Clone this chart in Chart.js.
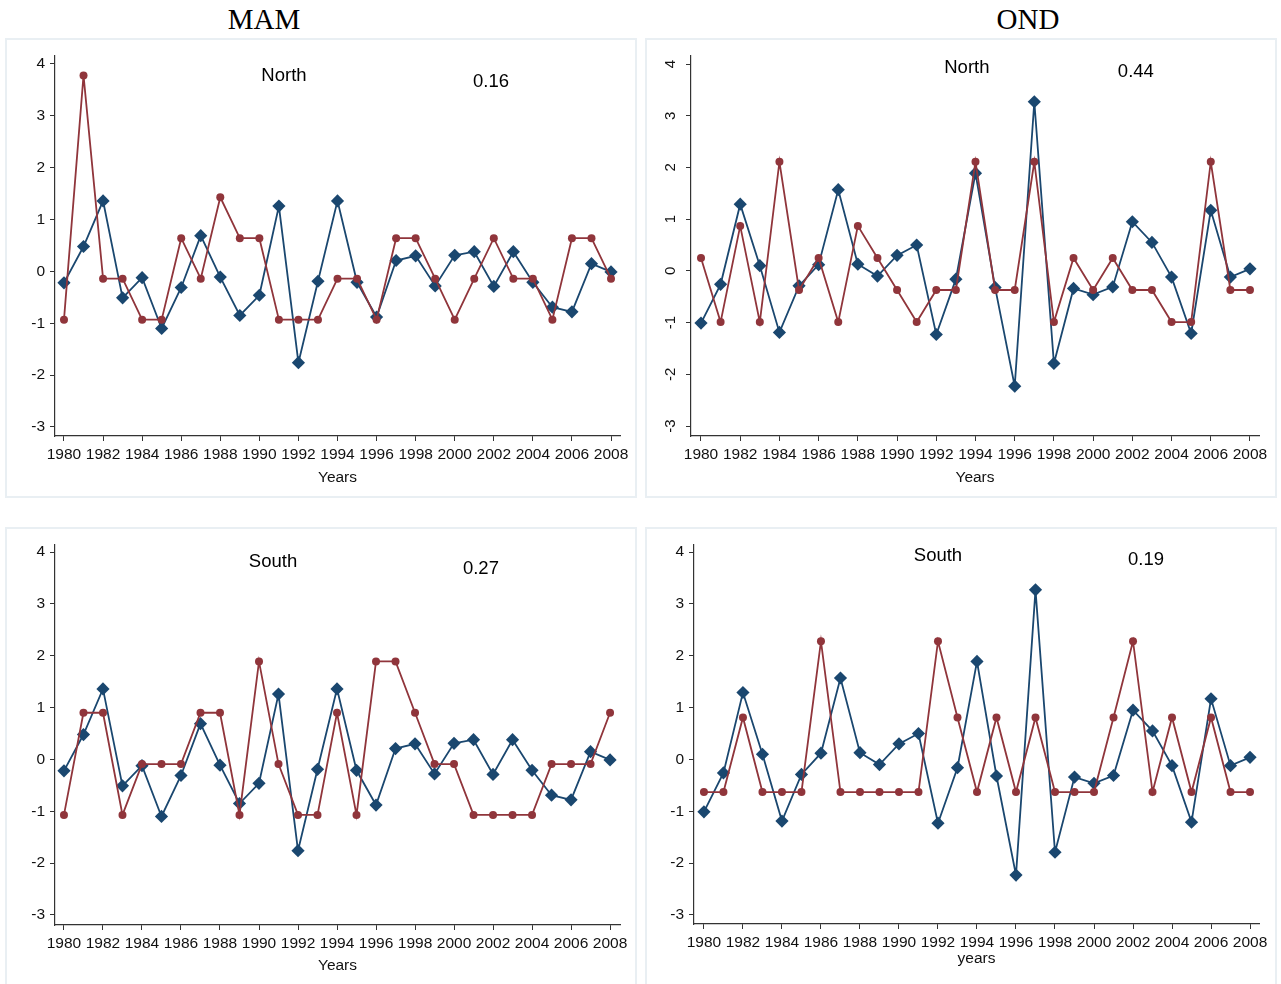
<!DOCTYPE html>
<html><head><meta charset="utf-8">
<script src="https://cdn.jsdelivr.net/npm/chart.js@4.4.1/dist/chart.umd.min.js"></script>
<style>
html,body{margin:0;padding:0;background:#fff;}
body{width:1281px;height:984px;position:relative;overflow:hidden;}
.ttl{position:absolute;top:0;font-family:"Liberation Serif","Times New Roman",serif;font-size:29px;line-height:38px;width:200px;text-align:center;color:#000;}
.box{position:absolute;border:2px solid #e9eff3;box-sizing:border-box;}
canvas{position:absolute;}
</style></head><body>
<div class="ttl" style="left:164px">MAM</div>
<div class="ttl" style="left:928px">OND</div>
<div class="box" style="left:5px;top:38px;width:632px;height:460px"></div>
<div class="box" style="left:645px;top:38px;width:632px;height:460px"></div>
<div class="box" style="left:5px;top:527px;width:632px;height:460px"></div>
<div class="box" style="left:645px;top:527px;width:632px;height:460px"></div>
<canvas id="c1" width="632" height="460" style="left:5px;top:38px"></canvas>
<canvas id="c2" width="632" height="460" style="left:645px;top:38px"></canvas>
<canvas id="c3" width="632" height="457" style="left:5px;top:527px"></canvas>
<canvas id="c4" width="632" height="457" style="left:645px;top:527px"></canvas>
<script>
// ---- data ----
const years = [1980,1981,1982,1983,1984,1985,1986,1987,1988,1989,1990,1991,1992,1993,1994,1995,1996,1997,1998,1999,2000,2001,2002,2003,2004,2005,2006,2007,2008];
const xTickLabels = [1980,1982,1984,1986,1988,1990,1992,1994,1996,1998,2000,2002,2004,2006,2008];
const yTickLabels = [-3,-2,-1,0,1,2,3,4];

// blue (diamond) series: same index in both regions of a season
const mamIndex = [-0.22,0.48,1.36,-0.51,-0.12,-1.10,-0.31,0.69,-0.11,-0.85,-0.46,1.26,-1.76,-0.19,1.36,-0.21,-0.88,0.21,0.30,-0.28,0.31,0.38,-0.29,0.38,-0.21,-0.69,-0.78,0.15,-0.01];
const ondIndex = [-1.01,-0.26,1.29,0.10,-1.19,-0.29,0.12,1.57,0.13,-0.10,0.30,0.50,-1.23,-0.16,1.89,-0.32,-2.23,3.27,-1.79,-0.34,-0.46,-0.31,0.95,0.55,-0.12,-1.21,1.17,-0.12,0.04];

// red (circle) series
const mamNorth = [-0.93,3.78,-0.14,-0.14,-0.93,-0.93,0.64,-0.14,1.43,0.64,0.64,-0.93,-0.93,-0.93,-0.14,-0.14,-0.93,0.64,0.64,-0.14,-0.93,-0.14,0.64,-0.14,-0.14,-0.93,0.64,0.64,-0.14];
const ondNorth = [0.25,-0.99,0.87,-0.99,2.11,-0.37,0.25,-0.99,0.87,0.25,-0.37,-0.99,-0.37,-0.37,2.11,-0.37,-0.37,2.11,-0.99,0.25,-0.37,0.25,-0.37,-0.37,-0.99,-0.99,2.11,-0.37,-0.37];
const mamSouth = [-1.07,0.90,0.90,-1.07,-0.09,-0.09,-0.09,0.90,0.90,-1.07,1.89,-0.09,-1.07,-1.07,0.90,-1.07,1.89,1.89,0.90,-0.09,-0.09,-1.07,-1.07,-1.07,-1.07,-0.09,-0.09,-0.09,0.90];
const ondSouth = [-0.63,-0.63,0.81,-0.63,-0.63,-0.63,2.28,-0.63,-0.63,-0.63,-0.63,-0.63,2.28,0.81,-0.63,0.81,-0.63,0.81,-0.63,-0.63,-0.63,0.81,2.28,-0.63,0.81,-0.63,0.81,-0.63,-0.63];

const regionNames = ["North","North","South","South"];
const corrLabels = ["0.16","0.44","0.27","0.19"];
const axisTitles = ["Years","Years","Years","years"];

// ---- styling ----
const BLUE = '#1a476f', RED = '#90353b';
const FONT = '"Liberation Sans", Arial, sans-serif';

const panelTextPlugin = {
  id: 'panelText',
  afterDraw(chart, args, opts) {
    const ctx = chart.ctx, xs = chart.scales.x, ys = chart.scales.y;
    ctx.save();
    ctx.fillStyle = '#000';
    ctx.textAlign = 'center';
    ctx.textBaseline = 'middle';
    ctx.font = '18.5px ' + FONT;
    (opts.items || []).forEach(it => {
      ctx.fillText(it.text, xs.getPixelForValue(it.x), ys.getPixelForValue(it.y));
    });
    if (opts.rotY) {
      ctx.font = '15px ' + FONT;
      ctx.fillStyle = '#111';
      ys.ticks.forEach(t => {
        const py = ys.getPixelForValue(t.value);
        ctx.save();
        ctx.translate(ys.right - 20, py);
        ctx.rotate(-Math.PI / 2);
        ctx.fillText(String(t.value), 0, 0);
        ctx.restore();
      });
    }
    ctx.restore();
  }
};

function makePanel(id, cfg) {
  const el = document.getElementById(id);
  const W = el.width, H = el.height;
  const pts = arr => years.map((yr, i) => ({x: yr, y: arr[i]}));
  new Chart(el, {
    type: 'line',
    data: { datasets: [
      { data: pts(cfg.red), borderColor: RED, backgroundColor: RED, pointStyle: 'circle',
        pointRadius: 4, pointHoverRadius: 4, pointBorderWidth: 0, borderWidth: 1.8, tension: 0, clip: false, order: 0 },
      { data: pts(cfg.blue), borderColor: BLUE, backgroundColor: BLUE, pointStyle: 'rectRot',
        pointRadius: 6.6, pointHoverRadius: 6.6, pointBorderWidth: 0, borderWidth: 1.8, tension: 0, clip: false, order: 1 }
    ]},
    plugins: [panelTextPlugin],
    options: {
      responsive: false, animation: false, events: [],
      layout: { padding: { left: 0, top: cfg.plot.T, right: W - cfg.plot.R, bottom: 0 } },
      plugins: { legend: { display: false }, tooltip: { enabled: false },
        panelText: { items: cfg.items, rotY: cfg.rotY } },
      scales: {
        x: {
          type: 'linear', min: cfg.xmin, max: cfg.xmax,
          afterBuildTicks: s => { s.ticks = xTickLabels.map(v => ({ value: v })); },
          afterFit: s => { s.height = H - cfg.plot.B; },
          grid: { display: true, drawOnChartArea: false, drawTicks: true, tickLength: 5, tickColor: '#333', tickWidth: 1 },
          border: { display: true, color: '#333', width: 1.2 },
          ticks: { font: { family: FONT, size: 15.5 }, color: '#111', padding: 4, maxRotation: 0, minRotation: 0, autoSkip: false,
                   callback: v => String(v) },
          title: { display: true, text: cfg.title, color: '#111', font: { family: FONT, size: 15.5 }, padding: { top: 0, bottom: cfg.titlePad } }
        },
        y: {
          type: 'linear', min: cfg.ymin, max: cfg.ymax,
          afterBuildTicks: s => { s.ticks = yTickLabels.map(v => ({ value: v })); },
          afterFit: s => { s.width = cfg.plot.L; },
          grid: { display: true, drawOnChartArea: false, drawTicks: true, tickLength: 5, tickColor: '#333', tickWidth: 1 },
          border: { display: true, color: '#333', width: 1.2 },
          ticks: { display: !cfg.rotY, font: { family: FONT, size: 15.5 }, color: '#111', padding: 5, callback: v => String(v) }
        }
      }
    }
  });
}

// plot rectangles are relative to each canvas
makePanel('c1', { blue: mamIndex, red: mamNorth, title: axisTitles[0], titlePad: 11,
  plot: { L: 50, T: 18, R: 615, B: 398 }, xmin: 1979.54, xmax: 2008.46, ymin: -3.174, ymax: 4.154,
  items: [{ text: regionNames[0], x: 1991.26, y: 3.77 }, { text: corrLabels[0], x: 2001.86, y: 3.65 }] });
makePanel('c2', { blue: ondIndex, red: ondNorth, title: axisTitles[1], titlePad: 11, rotY: true,
  plot: { L: 46, T: 18, R: 614, B: 398 }, xmin: 1979.49, xmax: 2008.46, ymin: -3.193, ymax: 4.155,
  items: [{ text: regionNames[1], x: 1993.56, y: 3.92 }, { text: corrLabels[1], x: 2002.18, y: 3.85 }] });
makePanel('c3', { blue: mamIndex, red: mamSouth, title: axisTitles[2], titlePad: 9,
  plot: { L: 50, T: 18, R: 615, B: 398 }, xmin: 1979.54, xmax: 2008.51, ymin: -3.193, ymax: 4.135,
  items: [{ text: regionNames[2], x: 1990.72, y: 3.81 }, { text: corrLabels[2], x: 2001.38, y: 3.67 }] });
makePanel('c4', { blue: ondIndex, red: ondSouth, title: axisTitles[3], titlePad: 16,
  plot: { L: 49, T: 18, R: 614, B: 397 }, xmin: 1979.49, xmax: 2008.46, ymin: -3.174, ymax: 4.135,
  items: [{ text: regionNames[3], x: 1992.0, y: 3.92 }, { text: corrLabels[3], x: 2002.67, y: 3.85 }] });
</script>
</body></html>
